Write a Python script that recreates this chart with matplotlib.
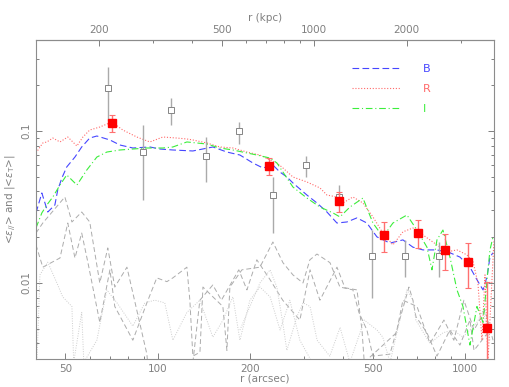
import numpy as np
import matplotlib
matplotlib.use('Agg')
from matplotlib import pyplot as plt
from matplotlib.ticker import FixedLocator, NullFormatter
from matplotlib.lines import Line2D

KPC_PER_ARCSEC = 3.1

# B band (blue dashed)
b_r = [40.1, 41.9, 43.8, 46.2, 47.2, 48.7, 50.5, 53.7, 56.5, 60.0, 63.3, 69.8, 75.2, 82.9,
       94.2, 101.5, 111.9, 130.0, 151.1, 167.8, 185.0, 203.9, 219.8, 236.9, 249.7, 263.2,
       275.3, 305.7, 329.6, 355.3, 382.9, 412.7, 444.8, 479.4, 516.8, 569.6, 628.1, 676.9,
       729.7, 810.6, 893.4, 963.2, 1038, 1094, 1145, 1180, 1206, 1234]
b_e = [0.0289, 0.0391, 0.0293, 0.0326, 0.0409, 0.0491, 0.0580, 0.0674, 0.0785, 0.0899,
       0.0927, 0.0873, 0.0809, 0.0773, 0.0785, 0.0761, 0.0750, 0.0739, 0.0785, 0.0727,
       0.0695, 0.0616, 0.0571, 0.0597, 0.0537, 0.0498, 0.0455, 0.0379, 0.0336, 0.0293,
       0.0248, 0.0252, 0.0268, 0.0248, 0.0201, 0.0183, 0.0192, 0.0172, 0.0165, 0.0165,
       0.0158, 0.0148, 0.0127, 0.0105, 0.0090, 0.0110, 0.0148, 0.0158]

# R band (red dotted)
r_r = [40.1, 42.2, 43.5, 45.5, 48.0, 50.9, 54.5, 57.0, 60.0, 64.7, 70.8, 76.9, 85.4, 94.2,
       103.8, 115.3, 124.3, 130.0, 144.4, 159.2, 175.5, 195.0, 214.9, 231.6, 244.2, 255.4,
       275.3, 305.7, 337.1, 355.3, 382.9, 400.5, 431.7, 465.3, 501.5, 540.5, 582.6, 628.1,
       676.9, 729.7, 810.6, 873.6, 941.8, 1015, 1062, 1102, 1136, 1162, 1188, 1215, 1243]
r_e = [0.0717, 0.0834, 0.0847, 0.0899, 0.0847, 0.0913, 0.0797, 0.0913, 0.1015, 0.1062,
       0.1146, 0.1015, 0.0913, 0.0847, 0.0913, 0.0899, 0.0886, 0.0873, 0.0834, 0.0785,
       0.0773, 0.0727, 0.0695, 0.0645, 0.0616, 0.0571, 0.0498, 0.0462, 0.0422, 0.0379,
       0.0368, 0.0336, 0.0368, 0.0336, 0.0272, 0.0213, 0.0178, 0.0217, 0.0230, 0.0207,
       0.0178, 0.0160, 0.0165, 0.0153, 0.0138, 0.0100, 0.0042, 0.0113, 0.0030, 0.0077, 0.0192]

# I band (green dash-dot)
i_r = [40.1, 41.9, 43.5, 45.5, 48.0, 50.5, 54.5, 58.7, 63.3, 68.2, 75.2, 82.9, 92.1, 103.8,
       111.9, 124.3, 144.4, 159.2, 175.5, 195.0, 210.1, 231.6, 244.2, 255.4, 275.3, 305.7,
       337.1, 371.6, 391.6, 422.1, 465.3, 501.5, 540.5, 582.6, 647.3, 697.6, 752.0, 780.7,
       810.6, 847.8, 893.4, 941.8, 985.1, 1038, 1094, 1145, 1180, 1206, 1234]
i_e = [0.0230, 0.0289, 0.0326, 0.0368, 0.0441, 0.0514, 0.0441, 0.0554, 0.0674, 0.0727,
       0.0750, 0.0761, 0.0773, 0.0773, 0.0785, 0.0847, 0.0821, 0.0773, 0.0750, 0.0717,
       0.0695, 0.0664, 0.0616, 0.0537, 0.0428, 0.0362, 0.0316, 0.0289, 0.0272, 0.0316,
       0.0362, 0.0248, 0.0201, 0.0248, 0.0280, 0.0223, 0.0172, 0.0122, 0.0192, 0.0223,
       0.0148, 0.0090, 0.0070, 0.0039, 0.0070, 0.0055, 0.0105, 0.0165, 0.0201]

# |<eps_T>| curves (grey)
g1_r = [40.1, 42.2, 49.8, 52.5, 56.5, 60.0, 64.7, 68.7, 72.4, 79.3, 92.1, 94.2]
g1_e = [0.0213, 0.0248, 0.0368, 0.0252, 0.0293, 0.0252, 0.0100, 0.0170, 0.0094, 0.0127,
        0.0034, 0.0020]

g2_r = [40.1, 42.2, 48.0, 50.9, 53.7, 56.5, 59.2, 64.7, 69.8, 72.4, 82.9, 92.1, 99.2, 107.0,
        111.9, 124.3, 127.1, 130.0, 137.1, 140.2, 151.1, 162.8, 167.8, 171.6, 187.8, 214.9,
        236.9, 255.4, 275.3, 296.8, 312.6, 329.6, 363.4, 391.6, 431.7, 451.5, 479.4, 501.5,
        569.6, 657.0, 676.9, 692.4, 752.0, 810.6, 893.0, 963.0, 1038, 1070, 1206]
g2_e = [0.0178, 0.0127, 0.0146, 0.0248, 0.0146, 0.0213, 0.0136, 0.0055, 0.0122, 0.0070,
        0.0042, 0.0074, 0.0108, 0.0102, 0.0108, 0.0127, 0.0077, 0.0033, 0.0035, 0.0094,
        0.0081, 0.0070, 0.0036, 0.0094, 0.0122, 0.0127, 0.0186, 0.0136, 0.0113, 0.0100,
        0.0142, 0.0155, 0.0136, 0.0094, 0.0090, 0.0064, 0.0049, 0.0033, 0.0034, 0.0094,
        0.0077, 0.0060, 0.0047, 0.0033, 0.0049, 0.0039, 0.0057, 0.0036, 0.0049]

g3_r = [130.0, 137.0, 151.0, 161.0, 183.5, 195.0, 210.0, 232.0, 255.0, 290.0, 313.0, 337.0,
        383.0, 406.5, 445.0, 462.0, 470.0, 598.0, 628.0, 698.0, 769.0, 854.0, 920.0, 992.0,
        1070, 1162, 1234]
g3_e = [0.0030, 0.0077, 0.0097, 0.0077, 0.0122, 0.0090, 0.0142, 0.0105, 0.0077, 0.0057,
        0.0122, 0.0077, 0.0127, 0.0093, 0.0090, 0.0049, 0.0030, 0.0047, 0.0077, 0.0070,
        0.0040, 0.0057, 0.0042, 0.0077, 0.0049, 0.0066, 0.0042]

d1_r = [40.4, 41.3, 43.8, 46.9, 49.0, 52.5, 53.2, 56.5, 57.4, 63.3, 68.2, 73.6, 82.9, 90.7,
        97.8, 105.3, 111.9, 124.3, 137.0, 151.0, 163.0, 175.5, 185.0, 199.4, 215.0, 232.0,
        250.0, 269.0, 290.0, 318.0]
d1_e = [0.0030, 0.0113, 0.0137, 0.0100, 0.0081, 0.0070, 0.0030, 0.0064, 0.0030, 0.0042,
        0.0090, 0.0074, 0.0052, 0.0074, 0.0077, 0.0074, 0.0042, 0.0064, 0.0077, 0.0044,
        0.0057, 0.0081, 0.0042, 0.0077, 0.0094, 0.0081, 0.0049, 0.0077, 0.0042, 0.0030]

d2_r = [185.0, 215.0, 232.0, 244.0, 255.0, 263.0, 283.6, 297.0, 313.0, 330.0, 363.0, 392.0,
        422.0, 470.0, 517.0, 540.0, 570.0, 647.0, 677.0, 692.0, 769.0, 848.0, 913.6, 985.0,
        1094, 1145, 1206]
d2_e = [0.0049, 0.0100, 0.0122, 0.0094, 0.0055, 0.0036, 0.0060, 0.0074, 0.0070, 0.0042,
        0.0033, 0.0051, 0.0030, 0.0057, 0.0049, 0.0044, 0.0030, 0.0090, 0.0077, 0.0057,
        0.0040, 0.0047, 0.0049, 0.0044, 0.0055, 0.0066, 0.0042]

# open squares with grey error bars
sq_r = [68.7, 89.4, 110.0, 144.0, 184.0, 237.0, 304.0, 389.0, 498.0, 638.0, 823.0]
sq_e = [0.192, 0.0727, 0.1375, 0.0685, 0.100, 0.0379, 0.0597, 0.0368, 0.0151, 0.0151, 0.0151]
sq_hi = [0.264, 0.109, 0.165, 0.0914, 0.1146, 0.0498, 0.0685, 0.0442, 0.0223, 0.0192, 0.0186]
sq_lo = [0.118, 0.0352, 0.109, 0.0462, 0.082, 0.0213, 0.0498, 0.033, 0.0080, 0.0110, 0.0110]

# filled red squares
fs_r = [70.8, 230.0, 389.0, 545.0, 703.0, 861.0, 1023.0, 1180.0]
fs_e = [0.113, 0.0589, 0.0346, 0.0207, 0.0213, 0.0165, 0.01375, 0.00506]
fs_hi = [0.127, 0.0664, 0.0397, 0.0252, 0.0259, 0.0210, 0.0183, 0.01016]
fs_lo = [0.0985, 0.0514, 0.0293, 0.0160, 0.0170, 0.0122, 0.00927, 0.0020]

grey_txt = '#808080'
c_blue = '#4646ff'
c_red = '#ff6a6a'
c_green = '#3cee3c'
ls_b = (0, (6, 3))
ls_r = (0, (1, 1.6))
ls_i = (0, (6, 2.5, 1, 2.5))

fig = plt.figure(figsize=(5.09, 3.87), dpi=100)
ax = fig.add_axes([0.0707, 0.0724, 0.8998, 0.8242])
ax.set_xscale('log')
ax.set_yscale('log')

# grey curves
for xs, ys in [(g1_r, g1_e), (g2_r, g2_e), (g3_r, g3_e)]:
    ax.plot(xs, ys, color='#acacac', lw=0.7, ls=(0, (5, 3)))
for xs, ys in [(d1_r, d1_e), (d2_r, d2_e)]:
    ax.plot(xs, ys, color='#cdcdcd', lw=0.7, ls=(0, (1, 1.5)))

# band curves
ax.plot(b_r, b_e, color=c_blue, lw=0.8, ls=ls_b)
ax.plot(r_r, r_e, color=c_red, lw=0.8, ls=ls_r)
ax.plot(i_r, i_e, color=c_green, lw=0.8, ls=ls_i)

# data points
sq_e_a = np.array(sq_e)
ax.errorbar(sq_r, sq_e, yerr=[sq_e_a - np.array(sq_lo), np.array(sq_hi) - sq_e_a],
            fmt='s', ms=5, mfc='white', mec='#858585', mew=0.7,
            ecolor='#aaaaaa', elinewidth=1.0, capsize=0, zorder=4)
fs_e_a = np.array(fs_e)
ax.errorbar(fs_r, fs_e, yerr=[fs_e_a - np.array(fs_lo), np.array(fs_hi) - fs_e_a],
            fmt='s', ms=5.5, mfc='#ff0000', mec='#ff0000',
            ecolor='#ff7070', elinewidth=1.0, capsize=2, capthick=0.8, zorder=5)

ax.set_xlim(40.1, 1243)
ax.set_ylim(0.00316, 0.397)

ax.xaxis.set_major_locator(FixedLocator([50, 100, 200, 500, 1000]))
ax.xaxis.set_minor_locator(FixedLocator([60, 70, 80, 90, 300, 400, 600, 700, 800, 900]))
ax.set_xticklabels(['50', '100', '200', '500', '1000'])
ax.xaxis.set_minor_formatter(NullFormatter())
ax.yaxis.set_major_locator(FixedLocator([0.01, 0.1]))
ax.yaxis.set_minor_locator(FixedLocator([0.004, 0.005, 0.006, 0.007, 0.008, 0.009,
                                         0.02, 0.03, 0.04, 0.05, 0.06, 0.07, 0.08, 0.09,
                                         0.2, 0.3]))
ax.set_yticklabels(['0.01', '0.1'])
ax.yaxis.set_minor_formatter(NullFormatter())
for lbl in ax.get_yticklabels():
    lbl.set_rotation(90)
    lbl.set_va('center')

ax.tick_params(which='both', direction='in', colors=grey_txt, labelsize=7.5,
               right=True, top=False)
ax.tick_params(which='major', length=4, width=0.7)
ax.tick_params(which='minor', length=2.5, width=0.7)
for sp in ax.spines.values():
    sp.set_color('#8c8c8c')
    sp.set_linewidth(0.8)

sec = ax.secondary_xaxis('top', functions=(lambda x: x * KPC_PER_ARCSEC,
                                           lambda x: x / KPC_PER_ARCSEC))
sec.xaxis.set_major_locator(FixedLocator([200, 500, 1000, 2000]))
sec.xaxis.set_minor_locator(FixedLocator([300, 400, 600, 700, 800, 900, 3000]))
sec.set_xticklabels(['200', '500', '1000', '2000'])
sec.xaxis.set_minor_formatter(NullFormatter())
sec.tick_params(which='both', direction='in', colors=grey_txt, labelsize=7.5)
sec.tick_params(which='major', length=4, width=0.7)
sec.tick_params(which='minor', length=2.5, width=0.7)
sec.spines['top'].set_color('#8c8c8c')
sec.set_xlabel('r (kpc)', color=grey_txt, fontsize=7.5, labelpad=3)

ax.set_xlabel('r (arcsec)', color=grey_txt, fontsize=7.5, labelpad=0)
ax.set_ylabel(r'<$\epsilon_{//}$> and |<$\epsilon_{\rm T}$>|', color=grey_txt,
              fontsize=7.5, labelpad=2)

handles = [Line2D([], [], color=c_blue, lw=0.8, ls=ls_b),
           Line2D([], [], color=c_red, lw=0.8, ls=ls_r),
           Line2D([], [], color=c_green, lw=0.8, ls=ls_i)]
leg = ax.legend(handles, ['B', 'R', 'I'], loc='upper left', bbox_to_anchor=(0.669, 0.955),
                frameon=False, fontsize=8, handlelength=4.3, handletextpad=2.0,
                labelspacing=0.9)
for txt, col in zip(leg.get_texts(), [c_blue, c_red, c_green]):
    txt.set_color(col)

fig.savefig('out.png', dpi=100)
